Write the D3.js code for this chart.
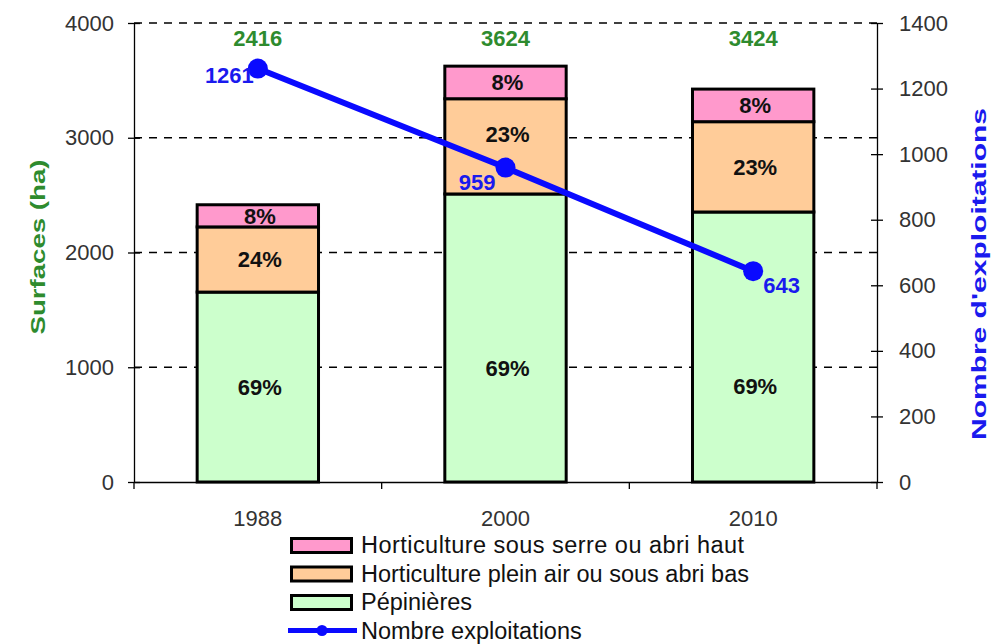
<!DOCTYPE html>
<html>
<head>
<meta charset="utf-8">
<script src="https://cdn.jsdelivr.net/npm/d3@7"></script>
<style>
  body { margin: 0; background: #fff; }
  svg { font-family: Arial, "Liberation Sans", sans-serif; }
</style>
</head>
<body>
<div id="chart"></div>
<script>
const years = ['1988', '2000', '2010'];
const pepinieres = [1655, 2510, 2353];
const pleinAir = [568, 830, 787];
const sousSerre = [193, 284, 284];
const totals = [2416, 3624, 3424];
const exploitations = [1261, 959, 643];
const pctPep = ['69%', '69%', '69%'];
const pctPlein = ['24%', '23%', '23%'];
const pctSerre = ['8%', '8%', '8%'];
const leftTicks = [0, 1000, 2000, 3000, 4000];
const rightTicks = [0, 200, 400, 600, 800, 1000, 1200, 1400];

const width = 996, height = 644;
const margin = { top: 23, right: 119, bottom: 162, left: 134 };
const innerW = width - margin.left - margin.right;
const innerH = height - margin.top - margin.bottom;
const font = 'Arial, "Liberation Sans", sans-serif';

const svg = d3.select('#chart').append('svg')
  .attr('width', width).attr('height', height);
const g = svg.append('g').attr('transform', `translate(${margin.left},${margin.top})`);

const x = d3.scaleBand().domain(years).range([0, innerW]).paddingInner(0).paddingOuter(0);
const y = d3.scaleLinear().domain([0, 4000]).range([innerH, 0]);
const y2 = d3.scaleLinear().domain([0, 1400]).range([innerH, 0]);

// dashed grid
g.selectAll('.grid').data(leftTicks.filter(d => d > 0)).enter().append('line')
  .attr('x1', 0).attr('x2', innerW)
  .attr('y1', d => y(d)).attr('y2', d => y(d))
  .attr('stroke', '#000').attr('stroke-width', 1.5)
  .attr('stroke-dasharray', '8,7');

// stacked bars
const colors = { pep: '#ccffcc', plein: '#ffcc99', serre: '#ff99cc' };
const barW = x.bandwidth() * 0.49;
years.forEach((yr, i) => {
  const cx = x(yr) + x.bandwidth() / 2;
  const segs = [
    { v0: 0, v1: pepinieres[i], c: colors.pep },
    { v0: pepinieres[i], v1: pepinieres[i] + pleinAir[i], c: colors.plein },
    { v0: pepinieres[i] + pleinAir[i], v1: totals[i], c: colors.serre }
  ];
  segs.forEach(s => {
    g.append('rect')
      .attr('x', cx - barW / 2).attr('y', y(s.v1))
      .attr('width', barW).attr('height', y(s.v0) - y(s.v1))
      .attr('fill', s.c).attr('stroke', '#000').attr('stroke-width', 3);
  });
});

// axes
const axisL = g.append('g').call(d3.axisLeft(y).tickValues(leftTicks).tickFormat(d3.format('d'))
  .tickSizeInner(6).tickSizeOuter(0).tickPadding(14));
axisL.selectAll('.tick line').attr('x1', 6).attr('x2', -6);
const axisR = g.append('g').attr('transform', `translate(${innerW},0)`)
  .call(d3.axisRight(y2).tickValues(rightTicks).tickFormat(d3.format('d'))
  .tickSizeInner(6).tickSizeOuter(0).tickPadding(16));
axisR.selectAll('.tick line').attr('x1', -6).attr('x2', 6);
const axisB = g.append('g').attr('transform', `translate(0,${innerH})`)
  .call(d3.axisBottom(x).tickSize(0).tickPadding(28));
axisB.selectAll('.boundary').data([0, 1, 2, 3]).enter().append('line')
  .attr('x1', d => d * x.step()).attr('x2', d => d * x.step())
  .attr('y1', 0).attr('y2', 7).attr('stroke', '#000').attr('stroke-width', 1.3);
[axisL, axisR, axisB].forEach(a => {
  a.attr('font-size', 22).attr('font-family', font);
  a.select('.domain').attr('stroke', '#000').attr('stroke-width', 1.3);
  a.selectAll('.tick line').attr('stroke', '#000').attr('stroke-width', 1.3);
  a.selectAll('text').attr('fill', '#333');
});

// percentage labels
const pepOff = [0, 30, 39];
const pleinOff = [0, -12, 0];
years.forEach((yr, i) => {
  const cx = x(yr) + x.bandwidth() / 2;
  const mids = [
    [pctPep[i], y(pepinieres[i] / 2) + pepOff[i]],
    [pctPlein[i], y(pepinieres[i] + pleinAir[i] / 2) + pleinOff[i]],
    [pctSerre[i], y(pepinieres[i] + pleinAir[i] + sousSerre[i] / 2)]
  ];
  mids.forEach(m => {
    g.append('text').attr('x', cx + 2).attr('y', m[1]).attr('dy', '0.36em')
      .attr('text-anchor', 'middle').attr('font-size', 22).attr('font-weight', 'bold')
      .attr('fill', '#111').text(m[0]);
  });
  g.append('text').attr('x', cx).attr('y', 15).attr('dy', '0.36em')
    .attr('text-anchor', 'middle').attr('font-size', 22).attr('font-weight', 'bold')
    .attr('fill', '#2e8b2e').text(totals[i]);
});

// line
const cxs = years.map(yr => x(yr) + x.bandwidth() / 2);
const line = d3.line().x((d, i) => cxs[i]).y(d => y2(d));
g.append('path').datum(exploitations).attr('d', line)
  .attr('fill', 'none').attr('stroke', '#0a0aff').attr('stroke-width', 6);
g.selectAll('.dot').data(exploitations).enter().append('circle')
  .attr('cx', (d, i) => cxs[i]).attr('cy', d => y2(d)).attr('r', 10).attr('fill', '#0a0aff');
const lblPos = [[-4, 7, 'end'], [-10, 14, 'end'], [10, 14, 'start']];
exploitations.forEach((v, i) => {
  g.append('text').attr('x', cxs[i] + lblPos[i][0]).attr('y', y2(v) + lblPos[i][1]).attr('dy', '0.36em')
    .attr('text-anchor', lblPos[i][2]).attr('font-size', 22).attr('font-weight', 'bold')
    .attr('fill', '#1a1aee').text(v);
});

// axis titles
svg.append('text').attr('transform', 'translate(37,247) rotate(-90)')
  .attr('text-anchor', 'middle').attr('dy', '0.36em').attr('font-size', 21).attr('font-weight', 'bold')
  .attr('textLength', 175).attr('lengthAdjust', 'spacingAndGlyphs')
  .attr('fill', '#2e8b2e').text('Surfaces (ha)');
svg.append('text').attr('transform', 'translate(979,274) rotate(-90)')
  .attr('text-anchor', 'middle').attr('dy', '0.36em').attr('font-size', 20).attr('font-weight', 'bold')
  .attr('textLength', 332).attr('lengthAdjust', 'spacingAndGlyphs')
  .attr('fill', '#1a1aee').text("Nombre d'exploitations");

// legend
const legendItems = [
  { label: 'Horticulture sous serre ou abri haut', c: colors.serre, type: 'rect' },
  { label: 'Horticulture plein air ou sous abri bas', c: colors.plein, type: 'rect' },
  { label: 'Pépinières', c: colors.pep, type: 'rect' },
  { label: 'Nombre exploitations', c: '#0a0aff', type: 'line' }
];
const legend = svg.append('g').attr('transform', 'translate(290,545)');
legendItems.forEach((d, i) => {
  const row = legend.append('g').attr('transform', `translate(0,${i * 28.5})`);
  if (d.type === 'rect') {
    row.append('rect').attr('x', 1.5).attr('y', -6.5).attr('width', 60).attr('height', 14)
      .attr('fill', d.c).attr('stroke', '#000').attr('stroke-width', 3);
  } else {
    row.append('line').attr('x1', -2).attr('x2', 67).attr('y1', 0).attr('y2', 0)
      .attr('stroke', d.c).attr('stroke-width', 5);
    row.append('circle').attr('cx', 32).attr('cy', 0).attr('r', 5.5).attr('fill', d.c);
  }
  row.append('text').attr('x', 71).attr('y', 0).attr('dy', '0.34em')
    .attr('font-size', 23.5).attr('textLength', i === 0 ? 383 : null).attr('fill', '#111').text(d.label);
});
</script>
</body>
</html>
